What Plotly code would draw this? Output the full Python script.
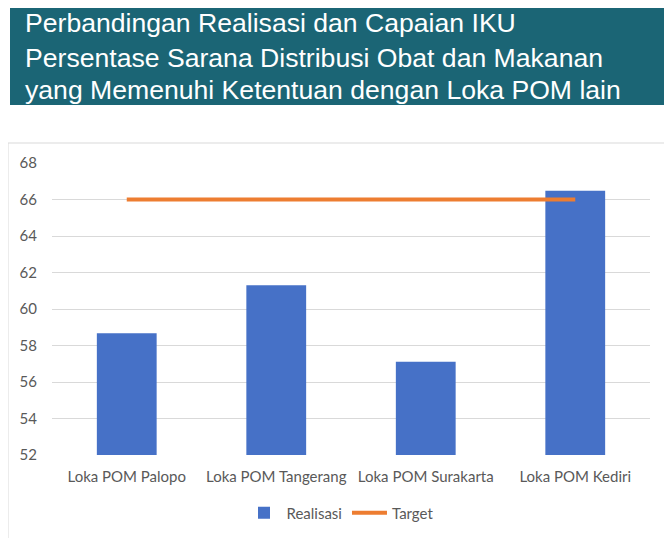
import plotly.graph_objects as go

categories = ["Loka POM Palopo", "Loka POM Tangerang", "Loka POM Surakarta", "Loka POM Kediri"]
realisasi = [58.67, 61.3, 57.11, 66.48]
target = [66, 66, 66, 66]
y_ticks = [52, 54, 56, 58, 60, 62, 64, 66, 68]
title_lines = [
    "Perbandingan Realisasi dan Capaian IKU",
    "Persentase Sarana Distribusi Obat dan Makanan",
    "yang Memenuhi Ketentuan dengan Loka POM lain",
]

OFF = 8  # page body margin
W, H = 672 - OFF, 538 - OFF
L, R, T, B = 52, 650, 163, 455  # plot area in page pixels


def px(x):
    return (x - L) / (R - L)


def py(y):
    return (B - y) / (B - T)


fig = go.Figure()
fig.add_trace(go.Bar(
    x=categories, y=realisasi, name="Realisasi",
    marker=dict(color="#4671c7", line=dict(width=0)),
    width=0.4,
))
fig.add_trace(go.Scatter(
    x=categories, y=target, name="Target", mode="lines",
    line=dict(color="#ed7d31", width=4),
))

shapes = [
    dict(type="rect", xref="paper", yref="paper",
         x0=px(8), x1=px(668), y0=py(540), y1=py(143),
         line=dict(color="#d9d9d9", width=1), fillcolor="rgba(0,0,0,0)", layer="below"),
    dict(type="rect", xref="paper", yref="paper",
         x0=px(10), x1=px(668), y0=py(105), y1=py(8),
         line=dict(width=0), fillcolor="#1b6575", layer="above"),
]

annotations = []
for text, yc in zip(title_lines, [23, 58, 90]):
    annotations.append(dict(
        text=text, xref="paper", yref="paper", x=px(23), y=py(yc),
        xanchor="left", yanchor="middle", showarrow=False,
        font=dict(family="Liberation Sans, Arial", size=26.6, color="white"),
    ))

fig.update_layout(
    width=W, height=H,
    margin=dict(l=L - OFF, r=672 - R, t=T - OFF, b=538 - B, pad=0, autoexpand=False),
    paper_bgcolor="white", plot_bgcolor="white",
    font=dict(family="Lato, Open Sans, sans-serif", size=14, color="#595959"),
    showlegend=True,
    legend=dict(orientation="h", xref="container", yref="container",
                x=(340 - OFF) / W, xanchor="center", y=1 - (513 - OFF) / H, yanchor="middle",
                font=dict(size=15, color="#595959"), itemwidth=35, traceorder="normal"),
    shapes=shapes, annotations=annotations,
)
fig.update_xaxes(showgrid=False, showline=False, ticks="", ticklabelstandoff=11,
                 tickfont=dict(size=15, color="#595959"))
fig.update_yaxes(range=[52, 68], tickvals=y_ticks, showgrid=True, gridcolor="#d9d9d9", gridwidth=1,
                 zeroline=False, showline=False, ticks="", ticklabelstandoff=14,
                 tickfont=dict(size=15, color="#595959"))

fig.write_html("out.html")
